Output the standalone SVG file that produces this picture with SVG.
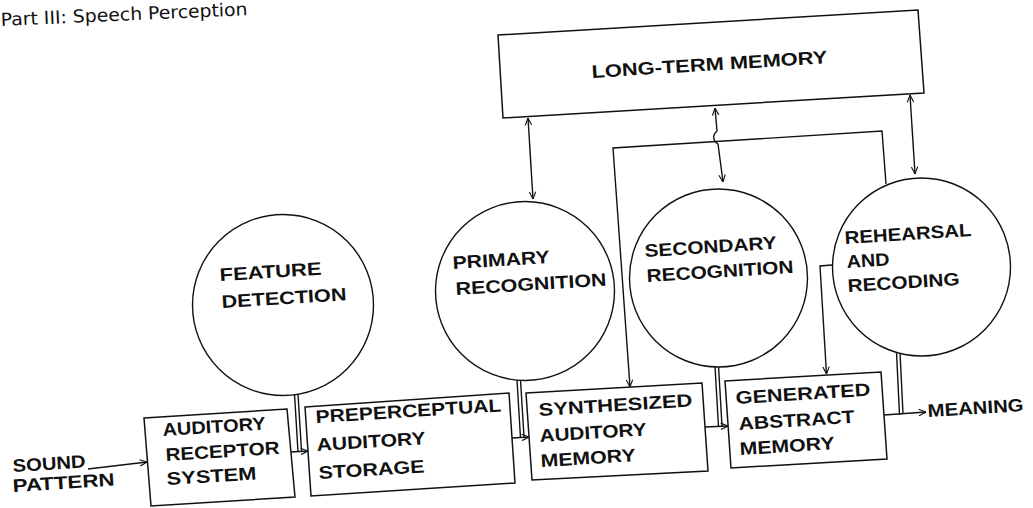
<svg xmlns="http://www.w3.org/2000/svg" width="1033" height="508" viewBox="0 0 1033 508">
  <style>
    .t { font-family: "Liberation Sans", Arial, sans-serif; font-weight: bold; font-size: 18px; fill: #111; }
    .hd { font-family: "DejaVu Sans", "Liberation Sans", sans-serif; font-size: 18px; fill: #111; }
    .box { fill: #fff; stroke: #111; stroke-width: 1.5; }
    .node { fill: #fff; stroke: #111; stroke-width: 1.4; }
    .ln { fill: none; stroke: #111; stroke-width: 1.4; }
  </style>
  <defs>
    <marker id="ah" viewBox="0 0 10 10" refX="10" refY="5" markerWidth="8" markerHeight="8" markerUnits="userSpaceOnUse" orient="auto-start-reverse">
      <path d="M1,1 L10,5 L1,9" fill="none" stroke="#111" stroke-width="1.4"/>
    </marker>
  </defs>
  <rect width="1033" height="508" fill="#fff"/>

  <g id="header">
    <text class="hd" x="1" y="26" textLength="247" lengthAdjust="spacingAndGlyphs" transform="rotate(-2.5 1 26)">Part III: Speech Perception</text>
  </g>

  <!-- connectors -->
  <g id="connectors">
    <!-- sound input -->
    <line class="ln" x1="88" y1="469" x2="147" y2="462" marker-end="url(#ah)"/>
    <!-- box to box chain -->
    <line class="ln" x1="291" y1="452" x2="308" y2="451" marker-end="url(#ah)"/>
    <line class="ln" x1="512" y1="438" x2="529" y2="437" marker-end="url(#ah)"/>
    <line class="ln" x1="705" y1="427" x2="728" y2="426" marker-end="url(#ah)"/>
    <line class="ln" x1="884" y1="415" x2="926" y2="412" marker-end="url(#ah)"/>
    <!-- circle stems (double lines) -->
    <path class="ln" d="M294.5,394 L298,452 M298,394 L301.5,451"/>
    <path class="ln" d="M517,380 L520.5,438 M520.5,380 L524,437"/>
    <path class="ln" d="M715,366 L718.5,427 M718.5,366 L722,426"/>
    <path class="ln" d="M896.5,352 L899.5,415 M900,352 L903,414"/>
    <!-- long-term memory links -->
    <line class="ln" x1="528" y1="118" x2="533" y2="199" marker-start="url(#ah)" marker-end="url(#ah)"/>
    <path class="ln" d="M715,108 L717,131 C712,135 713,141 718,144 L723,182" marker-start="url(#ah)" marker-end="url(#ah)"/>
    <line class="ln" x1="910" y1="95" x2="915" y2="174" marker-start="url(#ah)" marker-end="url(#ah)"/>
    <!-- rehearsal feedback loop to synthesized memory -->
    <path class="ln" d="M886,184 L882,131 L613,148 L630,387" marker-end="url(#ah)"/>
    <!-- rehearsal to generated memory -->
    <path class="ln" d="M832,265 L820,266 L826.5,374" marker-end="url(#ah)"/>
  </g>

  <g id="ltm">
    <polygon class="box" points="498,35 918,10 924,93 503,118"/>
    <text class="t" x="592" y="78" font-size="19" textLength="236" lengthAdjust="spacingAndGlyphs" transform="rotate(-3.6 592 78)">LONG-TERM MEMORY</text>
  </g>

  <g id="sound">
    <text class="t" x="13" y="472" textLength="73" lengthAdjust="spacingAndGlyphs" transform="rotate(-3.6 13 472)">SOUND</text>
    <text class="t" x="13" y="492" textLength="102" lengthAdjust="spacingAndGlyphs" transform="rotate(-3.6 13 492)">PATTERN</text>
  </g>

  <g id="ars">
    <polygon class="box" points="144,418 287,409 295,497 151,506"/>
    <text class="t" x="163" y="436" textLength="103" lengthAdjust="spacingAndGlyphs" transform="rotate(-3.6 163 436)">AUDITORY</text>
    <text class="t" x="166" y="461" textLength="114" lengthAdjust="spacingAndGlyphs" transform="rotate(-3.6 166 461)">RECEPTOR</text>
    <text class="t" x="167" y="485" textLength="90" lengthAdjust="spacingAndGlyphs" transform="rotate(-3.6 167 485)">SYSTEM</text>
  </g>

  <g id="pas">
    <polygon class="box" points="305,407 509,393 515,483 311,496"/>
    <text class="t" x="316" y="423" textLength="186" lengthAdjust="spacingAndGlyphs" transform="rotate(-3.6 316 423)">PREPERCEPTUAL</text>
    <text class="t" x="317" y="451" textLength="109" lengthAdjust="spacingAndGlyphs" transform="rotate(-3.6 317 451)">AUDITORY</text>
    <text class="t" x="319" y="479" textLength="106" lengthAdjust="spacingAndGlyphs" transform="rotate(-3.6 319 479)">STORAGE</text>
  </g>

  <g id="sam">
    <polygon class="box" points="526,393 702,383 708,471 532,480"/>
    <text class="t" x="539" y="416" textLength="154" lengthAdjust="spacingAndGlyphs" transform="rotate(-3.6 539 416)">SYNTHESIZED</text>
    <text class="t" x="540" y="442" textLength="107" lengthAdjust="spacingAndGlyphs" transform="rotate(-3.6 540 442)">AUDITORY</text>
    <text class="t" x="541" y="467" textLength="95" lengthAdjust="spacingAndGlyphs" transform="rotate(-3.6 541 467)">MEMORY</text>
  </g>

  <g id="gam">
    <polygon class="box" points="725,381 881,372 887,459 731,468"/>
    <text class="t" x="736" y="404" textLength="135" lengthAdjust="spacingAndGlyphs" transform="rotate(-3.6 736 404)">GENERATED</text>
    <text class="t" x="739" y="430" textLength="116" lengthAdjust="spacingAndGlyphs" transform="rotate(-3.6 739 430)">ABSTRACT</text>
    <text class="t" x="740" y="455" textLength="95" lengthAdjust="spacingAndGlyphs" transform="rotate(-3.6 740 455)">MEMORY</text>
  </g>

  <g id="meaning">
    <text class="t" x="928" y="417" textLength="96" lengthAdjust="spacingAndGlyphs" transform="rotate(-3.6 928 417)">MEANING</text>
  </g>

  <g id="fd">
    <circle class="node" cx="283" cy="305" r="90.5"/>
    <text class="t" x="220" y="281" textLength="102" lengthAdjust="spacingAndGlyphs" transform="rotate(-3.6 220 281)">FEATURE</text>
    <text class="t" x="222" y="308" textLength="125" lengthAdjust="spacingAndGlyphs" transform="rotate(-3.6 222 308)">DETECTION</text>
  </g>

  <g id="pr">
    <circle class="node" cx="525" cy="291" r="89.5"/>
    <text class="t" x="453" y="269" textLength="97" lengthAdjust="spacingAndGlyphs" transform="rotate(-3.6 453 269)">PRIMARY</text>
    <text class="t" x="456" y="295" textLength="151" lengthAdjust="spacingAndGlyphs" transform="rotate(-3.6 456 295)">RECOGNITION</text>
  </g>

  <g id="sr">
    <circle class="node" cx="718.5" cy="278" r="89"/>
    <text class="t" x="645" y="257" textLength="132" lengthAdjust="spacingAndGlyphs" transform="rotate(-3.6 645 257)">SECONDARY</text>
    <text class="t" x="647" y="282" textLength="147" lengthAdjust="spacingAndGlyphs" transform="rotate(-3.6 647 282)">RECOGNITION</text>
  </g>

  <g id="rr">
    <circle class="node" cx="921.5" cy="267" r="89"/>
    <text class="t" x="845" y="244" textLength="127" lengthAdjust="spacingAndGlyphs" transform="rotate(-3.6 845 244)">REHEARSAL</text>
    <text class="t" x="847" y="268" textLength="43" lengthAdjust="spacingAndGlyphs" transform="rotate(-3.6 847 268)">AND</text>
    <text class="t" x="848" y="292" textLength="112" lengthAdjust="spacingAndGlyphs" transform="rotate(-3.6 848 292)">RECODING</text>
  </g>
</svg>
